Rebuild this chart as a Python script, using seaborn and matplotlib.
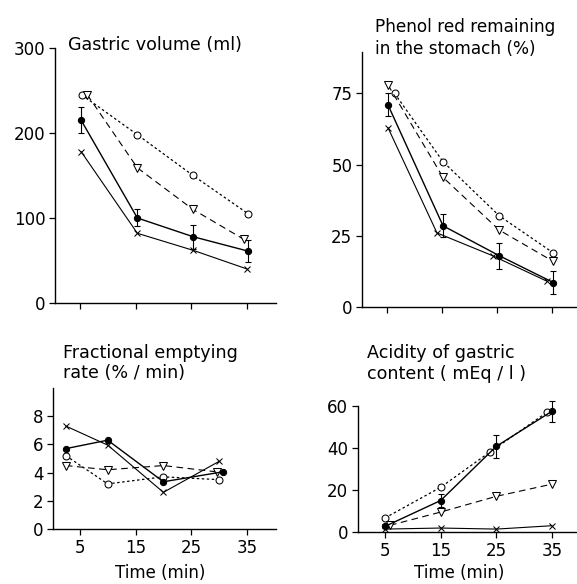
import numpy as np
import pandas as pd
import seaborn as sns
import matplotlib
matplotlib.use('Agg')
import matplotlib.pyplot as plt

# Times (min), per series (small offsets as drawn)
vol_t = {'circle': [5.3, 15.3, 25.3, 35.2], 'triangle': [6.3, 15.3, 25.3, 34.4],
         'filled': [5.2, 15.3, 25.3, 35.2], 'cross': [5.2, 15.3, 25.3, 35.0]}
vol = {'circle': [245, 198, 150, 105], 'triangle': [245, 159, 110, 75],
       'filled': [215, 100, 78, 61], 'cross': [178, 82, 62, 40]}
vol_err = [15, 10, 14, 13]

phr_t = {'circle': [6.4, 15.2, 25.4, 35.2], 'triangle': [5.2, 15.2, 25.4, 35.2],
         'filled': [5.2, 15.2, 25.4, 35.2], 'cross': [5.2, 14.1, 24.2, 34.1]}
phr = {'circle': [75, 51, 32, 19], 'triangle': [78, 45.5, 27, 16],
       'filled': [71, 28.5, 18, 8.6], 'cross': [63, 26, 18, 9]}
phr_err = [4, 4, 4.5, 4]

rate_t = {'circle': [2.5, 10, 20, 30], 'triangle': [2.5, 10, 20, 29.6],
          'filled': [2.5, 10, 20, 30.6], 'cross': [2.5, 10, 20, 30]}
rate = {'circle': [5.2, 3.2, 3.7, 3.5], 'triangle': [4.5, 4.2, 4.5, 4.05],
        'filled': [5.7, 6.3, 3.35, 4.05], 'cross': [7.3, 5.95, 2.6, 4.8]}

acid_t = {'circle': [5, 15, 23.8, 34.1], 'triangle': [5.9, 15, 25, 35],
          'filled': [5, 15, 25, 35], 'cross': [5, 15, 25, 35]}
acid = {'circle': [6.7, 21.3, 38, 57], 'triangle': [3.2, 9.5, 17, 22.8],
        'filled': [2.7, 15, 40.8, 57.5], 'cross': [1.4, 1.9, 1.4, 3]}
acid_err = [1, 3, 5.5, 5]

x_ticks = [5, 15, 25, 35]

styles = {
    'circle': dict(marker='o', mfc='white', ms=5, linestyle=(0, (2, 2)), lw=0.9),
    'triangle': dict(marker='v', mfc='white', ms=6, linestyle=(0, (6, 4)), lw=0.8),
    'filled': dict(marker='o', mfc='black', ms=4.5, linestyle='-', lw=1.0),
    'cross': dict(marker='x', ms=5, linestyle='-', lw=0.8),
}

sns.set_theme(style='white')
plt.rcParams['font.family'] = ['DejaVu Sans']
plt.rcParams['text.color'] = 'black'

fig = plt.figure(figsize=(5.77, 5.84), dpi=100)


def panel(rect, times, values, err, xlim, ylim, yticks, xlabels):
    ax = fig.add_axes(rect)
    for name in ['circle', 'triangle', 'cross', 'filled']:
        sns.lineplot(x=times[name], y=values[name], ax=ax, color='black',
                     mec='black', clip_on=False, **styles[name])
    if err is not None:
        ax.errorbar(times['filled'], values['filled'], yerr=err, fmt='none',
                    ecolor='black', elinewidth=0.8, capsize=2.5, capthick=0.8,
                    clip_on=False)
    ax.set_xlim(*xlim)
    ax.set_ylim(*ylim)
    ax.set_yticks(yticks)
    ax.set_xticks(x_ticks)
    if not xlabels:
        ax.set_xticklabels([])
    sns.despine(ax=ax)
    for s in ['left', 'bottom']:
        ax.spines[s].set_color('black')
        ax.spines[s].set_linewidth(1.0)
    ax.tick_params(direction='out', length=4, width=0.9, colors='black',
                   labelsize=12, left=True, bottom=True, pad=3)
    return ax


panel([0.0953, 0.4812, 0.383, 0.4366], vol_t, vol, vol_err,
      (0.5, 40.2), (0, 300), [0, 100, 200, 300], False)
panel([0.6274, 0.4743, 0.3726, 0.4366], phr_t, phr, phr_err,
      (0.5, 39.5), (0, 89.5), [0, 25, 50, 75], False)
panel([0.0919, 0.0942, 0.3865, 0.2414], rate_t, rate, None,
      (0.2, 40.2), (0, 10), [0, 2, 4, 6, 8], True)
panel([0.6205, 0.0890, 0.3795, 0.2158], acid_t, acid, acid_err,
      (0.15, 39.5), (0, 60), [0, 20, 40, 60], True)

fs = 12.6
fig.text(0.118, 0.923, 'Gastric volume (ml)', fontsize=fs, va='center')
fig.text(0.650, 0.935, 'Phenol red remaining\nin the stomach (%)', fontsize=12.2,
         va='center', linespacing=1.3)
fig.text(0.109, 0.378, 'Fractional emptying\nrate (% / min)', fontsize=fs,
         va='center', linespacing=1.15)
fig.text(0.636, 0.377, 'Acidity of gastric\ncontent ( mEq / l )', fontsize=fs,
         va='center', linespacing=1.2)
fig.text(0.277, 0.019, 'Time (min)', fontsize=12, ha='center', va='center')
fig.text(0.795, 0.019, 'Time (min)', fontsize=12, ha='center', va='center')

fig.savefig('out.png', dpi=100, facecolor='white')
